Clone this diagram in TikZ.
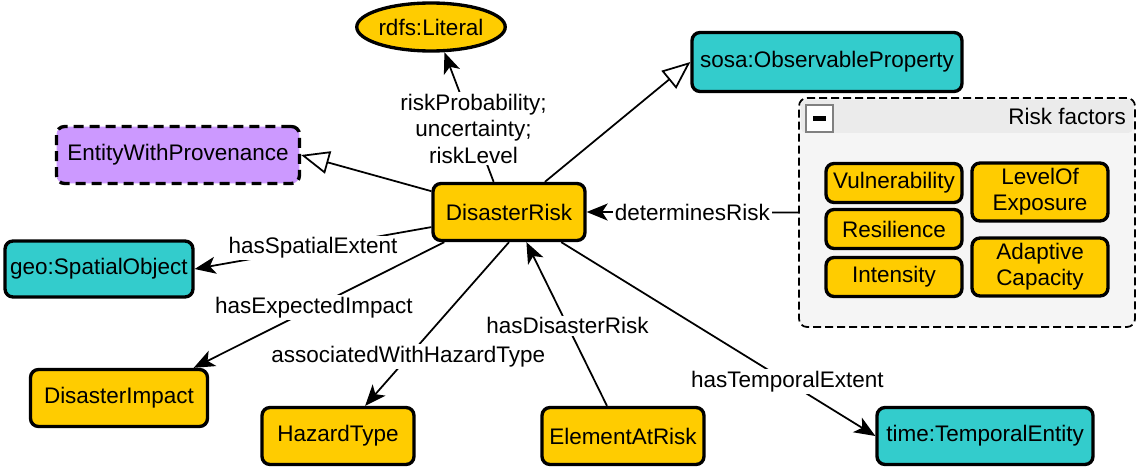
\documentclass[tikz,border=0pt]{standalone}
\usepackage{fontspec}
\setmainfont{Liberation Sans}
\usepackage{tikz}
\usetikzlibrary{shapes.geometric,arrows.meta,calc}
\definecolor{clsyellow}{HTML}{FFCC00}
\definecolor{clsteal}{HTML}{33CCCC}
\definecolor{clspurple}{HTML}{CC99FF}
\definecolor{grpfill}{HTML}{F5F5F5}
\definecolor{grphead}{HTML}{EBEBEB}
\tikzstyle{cls} = [rectangle, rounded corners=0.16cm, draw=black, line width=1.9pt, fill=clsyellow, minimum height=1.14cm, inner sep=0pt, text centered, align=center]
\tikzstyle{ext} = [cls, fill=clsteal]
\tikzstyle{prov} = [cls, fill=clspurple, dash pattern=on 0.2cm off 0.12cm]
\tikzstyle{lit} = [ellipse, draw=black, line width=1.9pt, fill=clsyellow, minimum width=2.74cm, minimum height=0.96cm, inner sep=0pt]
\tikzstyle{factor} = [cls, minimum width=2.72cm, minimum height=0.78cm]
\tikzstyle{arrow} = [line width=1pt, -{Stealth[length=0.42cm,width=0.34cm,inset=0.11cm]}]
\tikzstyle{subarrow} = [line width=1pt, -{Triangle[open,length=0.56cm,width=0.46cm]}]
\tikzstyle{lbl} = [fill=white, inner sep=1pt, align=center]

\begin{document}
\begin{tikzpicture}[x=0.02cm, y=-0.02cm, font=\fontsize{12.8}{15}\selectfont]
\useasboundingbox (0,0) rectangle (1143,473);

% risk factors group
\node[draw=black, dash pattern=on 0.16cm off 0.08cm, line width=1pt, fill=grpfill, rounded corners=0.16cm, minimum width=6.72cm, minimum height=4.58cm] (grp) at (967,212.5) {};
\fill[grphead, rounded corners=0.1cm] (801,100) rectangle (1133,133);
\node[draw=gray, line width=1.2pt, fill=white, minimum size=0.54cm, inner sep=0pt] (minus) at (819.5,118.5) {};
\draw[line width=2.4pt] ($(minus.center)+(-6.5,0)$) -- ($(minus.center)+(6.5,0)$);
\node[anchor=east] (grptitle) at (1132,116) {Risk factors};
\node[factor] (vul) at (894,183) {Vulnerability};
\node[factor] (res) at (894,229) {Resilience};
\node[factor] (int) at (894,277) {Intensity};
\node[factor, minimum height=1.16cm] (exp) at (1040,192) {LevelOf\\Exposure};
\node[factor, minimum height=1.16cm] (ada) at (1040,267) {Adaptive\\Capacity};

% classes
\node[lit] (literal) at (431,27) {rdfs:Literal};
\node[cls, minimum width=3.04cm] (risk) at (509,212) {DisasterRisk};
\node[ext, minimum width=5.4cm, minimum height=1.18cm] (obs) at (827,62) {sosa:ObservableProperty};
\node[prov, minimum width=4.86cm] (prov) at (178,155) {EntityWithProvenance};
\node[ext, minimum width=3.76cm, minimum height=1.12cm] (spatial) at (99,269) {geo:SpatialObject};
\node[cls, minimum width=3.54cm] (impact) at (119,398) {DisasterImpact};
\node[cls, minimum width=3.04cm] (hazard) at (338,436) {HazardType};
\node[cls, minimum width=3.24cm] (element) at (623,436) {ElementAtRisk};
\node[ext, minimum width=4.32cm] (temporal) at (985,436) {time:TemporalEntity};

\draw[arrow] (risk.117) -- node[lbl, pos=0.41] {riskProbability;\\uncertainty;\\riskLevel} (literal.-62);
\draw[subarrow] (risk.40) -- (obs.west);
\draw[subarrow] (risk.165) -- (prov.east);
\draw[arrow] (grp.west) -- node[lbl] {determinesRisk} (risk.east);
\draw[arrow] (risk.191) -- node[lbl] {hasSpatialExtent} (spatial.east);
\draw[arrow] (risk.205) -- node[lbl, pos=0.52] {hasExpectedImpact} (impact.22);
\draw[arrow] (risk.south) -- node[lbl, pos=0.7] {associatedWithHazardType} (hazard.48);
\draw[arrow] (element.118) -- node[lbl, pos=0.49] {hasDisasterRisk} (risk.-60);
\draw[arrow] (risk.-30) -- node[lbl, pos=0.72] {hasTemporalExtent} (temporal.west);
% \draw[red] (0,0) rectangle (1143,473);
\end{tikzpicture}
\end{document}
